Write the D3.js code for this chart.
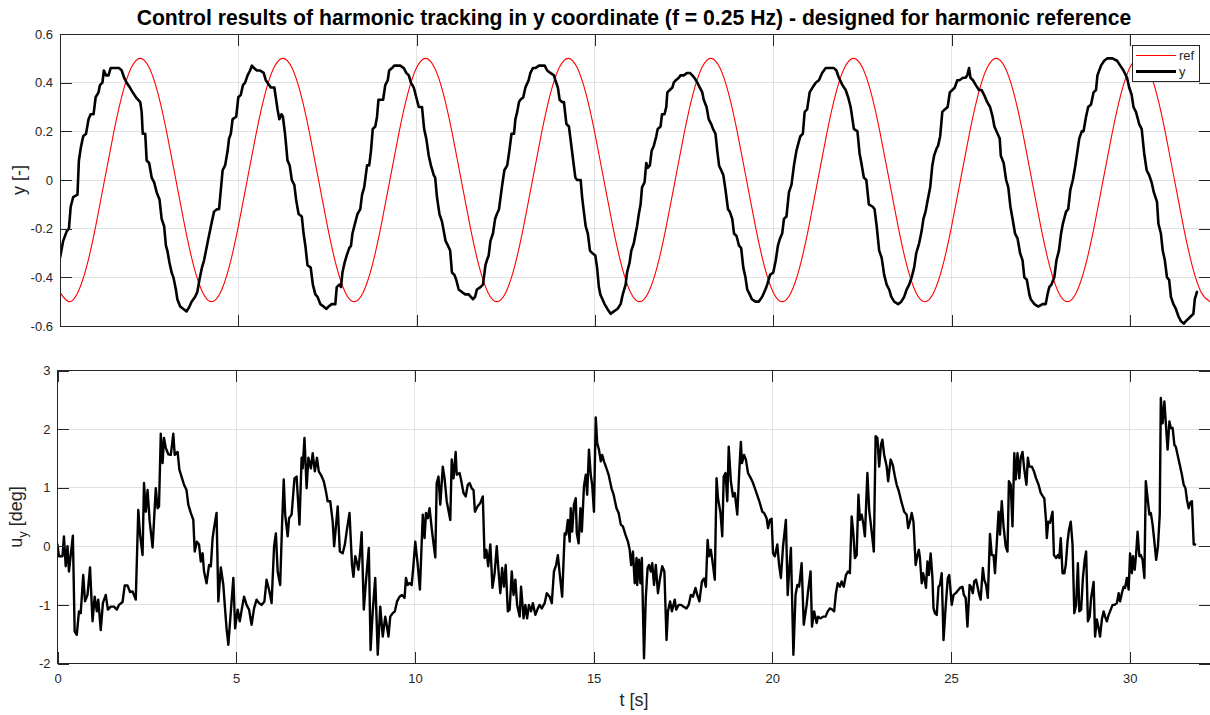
<!DOCTYPE html>
<html>
<head>
<meta charset="utf-8">
<script src="https://cdn.jsdelivr.net/npm/d3@7"></script>
<style>
  html, body { margin: 0; padding: 0; background: #ffffff; }
  svg { display: block; }
</style>
</head>
<body>
<svg id="chart" width="1210" height="715"></svg>
<script>
// ---------------------------------------------------------------------------
// Data
// ---------------------------------------------------------------------------
const titleText = "Control results of harmonic tracking in y coordinate (f = 0.25 Hz) - designed for harmonic reference";
const timeLabel = "t [s]";
const timeTicks = [0, 5, 10, 15, 20, 25, 30];
const yTicks = [-0.6, -0.4, -0.2, 0, 0.2, 0.4, 0.6];
const uTicks = [-2, -1, 0, 1, 2, 3];
const legendNames = ["ref", "y"];

// reference signal, sampled every 0.25 s from t = 0
const refStep = 0.25;
const refValues = [
  -0.462, -0.5, -0.462, -0.354, -0.191, 0, 0.191, 0.354, 0.462, 0.5, 0.462, 0.354, 0.191, 0, -0.191, -0.354,
  -0.462, -0.5, -0.462, -0.354, -0.191, 0, 0.191, 0.354, 0.462, 0.5, 0.462, 0.354, 0.191, 0, -0.191, -0.354,
  -0.462, -0.5, -0.462, -0.354, -0.191, 0, 0.191, 0.354, 0.462, 0.5, 0.462, 0.354, 0.191, 0, -0.191, -0.354,
  -0.462, -0.5, -0.462, -0.354, -0.191, 0, 0.191, 0.354, 0.462, 0.5, 0.462, 0.354, 0.191, 0, -0.191, -0.354,
  -0.462, -0.5, -0.462, -0.354, -0.191, 0, 0.191, 0.354, 0.462, 0.5, 0.462, 0.354, 0.191, 0, -0.191, -0.354,
  -0.462, -0.5, -0.462, -0.354, -0.191, 0, 0.191, 0.354, 0.462, 0.5, 0.462, 0.354, 0.191, 0, -0.191, -0.354,
  -0.462, -0.5, -0.462, -0.354, -0.191, 0, 0.191, 0.354, 0.462, 0.5, 0.462, 0.354, 0.191, 0, -0.191, -0.354,
  -0.462, -0.5, -0.462, -0.354, -0.191, 0, 0.191, 0.354, 0.462, 0.5, 0.462, 0.354, 0.191, 0, -0.191, -0.354,
  -0.462, -0.5
];

// measured y position [t, y]
const yMeasured = [
  [0,-0.32],[0.09,-0.25],[0.19,-0.21],[0.25,-0.2],[0.3,-0.11],[0.37,-0.07],[0.49,-0.06],[0.53,0.08],[0.58,0.13],[0.65,0.18],
  [0.73,0.19],[0.8,0.25],[0.86,0.27],[0.94,0.27],[1,0.34],[1.08,0.36],[1.12,0.39],[1.19,0.4],[1.23,0.45],[1.29,0.43],
  [1.36,0.43],[1.42,0.46],[1.54,0.46],[1.66,0.46],[1.73,0.45],[1.8,0.42],[1.87,0.4],[1.96,0.38],[2.04,0.36],[2.13,0.34],
  [2.25,0.32],[2.29,0.28],[2.32,0.19],[2.39,0.19],[2.43,0.08],[2.5,0.07],[2.57,0.01],[2.64,-0.01],[2.71,-0.05],[2.79,-0.08],
  [2.85,-0.16],[2.92,-0.19],[2.97,-0.27],[3.01,-0.29],[3.07,-0.34],[3.13,-0.38],[3.18,-0.4],[3.25,-0.45],[3.29,-0.49],[3.37,-0.52],
  [3.46,-0.53],[3.55,-0.54],[3.63,-0.52],[3.69,-0.5],[3.79,-0.48],[3.85,-0.46],[3.91,-0.41],[3.98,-0.36],[4.04,-0.33],[4.12,-0.27],
  [4.19,-0.22],[4.26,-0.17],[4.32,-0.13],[4.4,-0.12],[4.46,-0.12],[4.51,-0.04],[4.56,0.04],[4.63,0.06],[4.7,0.12],[4.74,0.17],
  [4.79,0.19],[4.84,0.25],[4.94,0.26],[5,0.34],[5.07,0.35],[5.13,0.39],[5.19,0.4],[5.26,0.43],[5.33,0.45],[5.38,0.47],
  [5.44,0.46],[5.52,0.45],[5.61,0.45],[5.71,0.44],[5.77,0.41],[5.82,0.4],[5.91,0.38],[6.01,0.38],[6.05,0.34],[6.1,0.29],
  [6.15,0.25],[6.21,0.27],[6.25,0.26],[6.31,0.19],[6.38,0.08],[6.44,0.06],[6.5,0],[6.57,-0.02],[6.62,-0.08],[6.69,-0.14],
  [6.78,-0.15],[6.83,-0.22],[6.88,-0.27],[6.94,-0.35],[7.03,-0.36],[7.09,-0.43],[7.16,-0.47],[7.22,-0.48],[7.3,-0.51],[7.39,-0.52],
  [7.47,-0.53],[7.53,-0.52],[7.62,-0.51],[7.72,-0.51],[7.76,-0.44],[7.83,-0.43],[7.88,-0.44],[7.92,-0.38],[7.98,-0.34],[8.04,-0.31],
  [8.11,-0.28],[8.16,-0.27],[8.2,-0.22],[8.27,-0.18],[8.34,-0.14],[8.42,-0.12],[8.47,-0.06],[8.53,-0.03],[8.61,0.06],[8.67,0.06],
  [8.72,0.12],[8.77,0.21],[8.84,0.22],[8.89,0.26],[8.93,0.33],[9.06,0.33],[9.12,0.39],[9.19,0.41],[9.23,0.45],[9.31,0.46],
  [9.37,0.47],[9.47,0.47],[9.54,0.47],[9.64,0.46],[9.71,0.44],[9.78,0.43],[9.84,0.4],[9.92,0.38],[9.99,0.34],
  [10.06,0.3],[10.15,0.3],[10.21,0.21],[10.27,0.17],[10.34,0.1],[10.4,0.06],[10.48,0.02],[10.52,0.01],[10.57,-0.07],[10.64,-0.14],
  [10.71,-0.17],[10.76,-0.21],[10.81,-0.25],[10.88,-0.27],[10.94,-0.29],[10.99,-0.38],[11.06,-0.39],[11.11,-0.41],[11.18,-0.45],[11.27,-0.46],
  [11.36,-0.47],[11.46,-0.47],[11.52,-0.48],[11.58,-0.49],[11.64,-0.48],[11.69,-0.45],[11.79,-0.44],[11.86,-0.43],[11.93,-0.35],[11.97,-0.33],
  [12.02,-0.31],[12.07,-0.25],[12.14,-0.22],[12.2,-0.16],[12.25,-0.14],[12.31,-0.12],[12.39,-0.03],[12.46,0.04],[12.54,0.06],[12.6,0.12],
  [12.66,0.19],[12.73,0.19],[12.77,0.25],[12.82,0.28],[12.87,0.32],[12.91,0.33],[12.99,0.34],[13.05,0.38],[13.14,0.41],[13.19,0.44],
  [13.26,0.46],[13.33,0.46],[13.43,0.47],[13.52,0.47],[13.59,0.47],[13.66,0.45],[13.75,0.44],[13.85,0.43],[13.89,0.41],[13.96,0.38],
  [14.01,0.33],[14.08,0.32],[14.13,0.32],[14.2,0.23],[14.27,0.22],[14.33,0.15],[14.39,0.08],[14.45,0.01],[14.5,0],[14.6,0],
  [14.64,-0.07],[14.68,-0.12],[14.74,-0.19],[14.8,-0.22],[14.86,-0.29],[14.92,-0.3],[15.01,-0.31],[15.06,-0.36],[15.11,-0.44],[15.15,-0.47],
  [15.21,-0.49],[15.27,-0.51],[15.35,-0.53],[15.44,-0.55],[15.53,-0.54],[15.63,-0.53],[15.72,-0.51],[15.78,-0.47],[15.86,-0.43],[15.9,-0.38],
  [15.97,-0.34],[16.02,-0.29],[16.09,-0.26],[16.14,-0.22],[16.18,-0.19],[16.23,-0.14],[16.28,-0.1],[16.32,-0.03],[16.39,-0.01],[16.44,0.07],
  [16.48,0.05],[16.54,0.06],[16.59,0.12],[16.65,0.14],[16.72,0.18],[16.76,0.21],[16.84,0.22],[16.88,0.27],[16.95,0.27],[17,0.3],
  [17.03,0.36],[17.1,0.37],[17.17,0.38],[17.21,0.4],[17.27,0.41],[17.35,0.42],[17.4,0.43],[17.49,0.43],[17.58,0.44],[17.66,0.44],
  [17.73,0.43],[17.79,0.42],[17.87,0.4],[17.94,0.38],[18.01,0.36],[18.05,0.33],[18.13,0.3],[18.19,0.25],[18.26,0.23],[18.31,0.21],
  [18.38,0.19],[18.43,0.12],[18.48,0.06],[18.54,0.04],[18.6,0.02],[18.66,-0.04],[18.73,-0.12],[18.78,-0.13],[18.85,-0.16],[18.9,-0.22],
  [18.97,-0.23],[19.04,-0.27],[19.1,-0.28],[19.16,-0.36],[19.22,-0.4],[19.27,-0.45],[19.34,-0.47],[19.4,-0.49],[19.5,-0.5],[19.59,-0.5],
  [19.69,-0.48],[19.78,-0.45],[19.83,-0.43],[19.91,-0.39],[20,-0.38],[20.07,-0.33],[20.13,-0.27],[20.19,-0.24],[20.25,-0.22],[20.3,-0.16],
  [20.37,-0.15],[20.44,-0.05],[20.51,-0.02],[20.58,0.06],[20.65,0.12],[20.72,0.16],[20.76,0.18],[20.83,0.19],[20.88,0.28],[20.95,0.29],
  [21.02,0.36],[21.1,0.38],[21.19,0.4],
  [21.28,0.41],[21.37,0.44],[21.47,0.46],[21.59,0.46],[21.7,0.46],[21.77,0.45],[21.84,0.42],[21.94,0.39],[22.03,0.37],[22.1,0.34],
  [22.17,0.3],[22.22,0.25],[22.26,0.21],[22.36,0.2],[22.42,0.11],[22.47,0.07],[22.54,0.01],[22.61,0],[22.68,-0.1],[22.79,-0.11],
  [22.84,-0.12],[22.9,-0.19],[22.97,-0.29],[23.04,-0.32],[23.11,-0.39],[23.18,-0.43],[23.25,-0.45],[23.31,-0.48],[23.39,-0.5],[23.5,-0.51],
  [23.59,-0.5],[23.67,-0.48],[23.74,-0.45],[23.81,-0.43],[23.88,-0.4],[23.95,-0.36],[24.01,-0.3],[24.09,-0.26],[24.16,-0.21],[24.21,-0.16],
  [24.27,-0.13],[24.32,-0.09],[24.4,-0.03],[24.46,0.06],[24.51,0.1],[24.58,0.13],[24.62,0.14],[24.68,0.18],[24.74,0.28],[24.81,0.29],
  [24.89,0.3],[24.95,0.36],[25.02,0.37],[25.09,0.38],[25.16,0.41],[25.22,0.41],[25.32,0.42],[25.39,0.42],[25.44,0.43],[25.49,0.46],
  [25.53,0.42],[25.6,0.41],[25.68,0.39],[25.77,0.37],[25.84,0.37],[25.91,0.35],[26,0.32],[26.08,0.3],[26.15,0.26],[26.2,0.22],
  [26.29,0.19],[26.35,0.17],[26.38,0.1],[26.46,0.07],[26.53,0],[26.59,-0.03],[26.65,-0.11],[26.71,-0.16],[26.78,-0.22],[26.85,-0.24],
  [26.92,-0.3],[26.99,-0.33],[27.04,-0.4],[27.11,-0.41],[27.18,-0.47],[27.22,-0.49],[27.32,-0.51],[27.43,-0.52],[27.55,-0.51],[27.64,-0.51],
  [27.69,-0.47],[27.74,-0.44],[27.8,-0.43],[27.88,-0.4],[27.94,-0.33],[28.01,-0.29],[28.07,-0.22],[28.12,-0.18],[28.21,-0.13],[28.27,-0.12],
  [28.33,-0.04],[28.4,0],[28.46,0.05],[28.52,0.11],[28.58,0.17],[28.65,0.2],[28.7,0.2],[28.77,0.26],[28.83,0.3],[28.91,0.31],
  [28.98,0.36],[29.05,0.37],[29.09,0.43],[29.19,0.47],[29.28,0.49],[29.37,0.5],[29.51,0.5],[29.64,0.49],[29.73,0.47],[29.82,0.45],
  [29.92,0.42],[29.98,0.38],[30.05,0.35],[30.1,0.3],[30.17,0.28],[30.26,0.23],[30.33,0.21],[30.4,0.11],[30.47,0.04],[30.54,0.02],
  [30.61,-0.01],[30.67,-0.05],[30.76,-0.09],[30.8,-0.18],[30.87,-0.22],[30.92,-0.29],[30.98,-0.33],[31.04,-0.4],[31.1,-0.41],[31.15,-0.48],
  [31.22,-0.51],[31.29,-0.53],[31.36,-0.56],[31.43,-0.58],[31.51,-0.59],[31.57,-0.58],[31.64,-0.57],[31.71,-0.56],[31.78,-0.55],[31.82,-0.49],
  [31.88,-0.46]
];

// control input u_y in degrees [t, u]
const uInput = [
  [0,0.03],[0.04,-0.17],[0.14,-0.17],[0.18,0.17],[0.23,-0.34],[0.28,0],[0.32,-0.43],[0.37,-0.15],[0.43,0.18],[0.48,-1.45],
  [0.54,-1.51],[0.6,-1.11],[0.65,-1.14],[0.72,-0.49],[0.77,-0.94],[0.84,-0.83],[0.91,-0.36],[0.98,-1.28],[1.04,-0.86],[1.1,-1.11],
  [1.14,-0.91],[1.21,-1.43],[1.27,-0.97],[1.35,-0.83],[1.41,-1.08],[1.49,-1.03],[1.58,-1.03],[1.66,-1.08],[1.72,-1],[1.82,-0.95],
  [1.88,-0.67],[1.96,-0.67],[2.03,-0.78],[2.1,-0.77],[2.14,-0.83],[2.19,-0.91],[2.26,0.62],[2.31,0.2],[2.38,-0.15],[2.42,1.08],
  [2.47,0.59],[2.52,0.96],[2.58,0.42],[2.66,-0.02],[2.75,0.99],[2.8,0.65],[2.84,0.68],[2.89,1.92],[2.94,1.42],[2.98,1.85],
  [3.03,1.68],[3.1,1.57],[3.17,1.56],[3.24,1.92],[3.28,1.56],[3.36,1.61],[3.41,1.31],[3.47,1.19],[3.54,1.05],[3.61,0.96],
  [3.66,0.71],[3.73,0.57],[3.8,0.45],[3.84,-0.09],[3.9,0.08],[3.96,0.03],[4.01,-0.26],[4.06,-0.12],[4.1,-0.43],[4.17,-0.63],
  [4.24,-0.32],[4.29,-0.34],[4.34,0.14],[4.38,0.31],[4.45,0.57],[4.5,-0.94],[4.57,-0.36],[4.64,-0.66],[4.68,-1],[4.73,-1.4],
  [4.78,-1.68],[4.85,-1.11],[4.92,-0.54],[4.97,-1.4],[5.04,-1.08],[5.1,-1.28],[5.16,-1.06],[5.22,-0.86],[5.29,-1],[5.36,-1.08],
  [5.43,-1.34],[5.5,-1.06],[5.57,-0.91],[5.64,-0.97],[5.71,-1],[5.79,-0.94],[5.85,-0.57],[5.93,-0.77],[5.99,-0.97],[6.06,0],
  [6.11,0.22],[6.16,-0.43],[6.23,-0.66],[6.28,0.31],[6.33,1.14],[6.37,0.54],[6.44,0.17],[6.48,0.48],[6.55,0.54],[6.63,1.16],
  [6.69,1.19],[6.77,0.37],[6.83,1.51],[6.86,1.33],[6.91,1.85],[6.97,0.99],[7.02,1.51],[7.09,1.33],[7.14,1.59],[7.2,1.28],
  [7.26,1.51],[7.31,1.28],[7.37,1.22],[7.45,1.11],[7.51,0.94],[7.56,0.77],[7.63,0.77],[7.7,0.42],[7.74,0],[7.84,0.68],
  [7.9,-0.09],[7.98,-0.12],[8.04,0.03],[8.09,0.25],
  [8.17,0.57],[8.24,-0.32],[8.28,-0.52],[8.33,-0.17],[8.37,-0.26],[8.42,-0.4],[8.47,-0.09],[8.51,0.24],[8.57,-1.08],[8.63,-0.6],
  [8.71,-0.03],[8.76,-1.77],[8.82,-1.11],[8.89,-0.54],[8.96,-1.85],[9.03,-1.03],[9.1,-1.54],[9.17,-1.2],[9.21,-1.34],[9.26,-1.54],
  [9.31,-1.2],[9.38,-1.14],[9.44,-1.11],[9.5,-0.94],[9.57,-0.86],[9.64,-0.83],[9.71,-0.88],[9.75,-0.54],[9.8,-0.66],[9.85,-0.63],
  [9.91,-0.66],[9.96,-0.32],[10.01,0.08],[10.08,-0.32],[10.14,-0.74],[10.22,0.54],[10.27,0.14],[10.31,0.57],[10.36,0.48],[10.41,0.65],
  [10.48,0.25],[10.57,-0.19],[10.61,1.08],[10.66,1.19],[10.71,0.71],[10.78,1.36],[10.83,1.16],[10.89,0.77],[10.99,0.45],[11.03,1.48],
  [11.08,1.16],[11.14,1.61],[11.17,1.22],[11.25,1.25],[11.29,1.14],[11.36,0.91],[11.42,0.85],[11.48,1.05],[11.53,1.08],[11.59,0.99],
  [11.64,0.96],[11.68,0.59],[11.75,0.68],[11.83,0.74],[11.9,0.85],[11.95,-0.2],[12,-0.06],[12.05,-0.34],[12.11,0.03],[12.17,-0.71],
  [12.23,-0.46],[12.29,0],[12.34,-0.43],[12.39,-0.8],[12.44,-0.37],[12.49,-0.69],[12.54,-0.32],[12.6,-1.11],[12.65,-1.08],[12.71,-0.43],
  [12.76,-0.83],[12.81,-0.57],[12.86,-1],[12.93,-1.2],[12.97,-0.69],[13.04,-1.23],[13.09,-1],[13.14,-1.23],[13.19,-1],[13.25,-1.11],
  [13.3,-0.97],[13.37,-1.17],[13.44,-1.06],[13.49,-1],[13.55,-1.06],[13.63,-0.97],[13.69,-0.8],[13.77,-0.86],[13.83,-0.97],[13.89,-0.43],
  [13.95,-0.32],[14,-0.15],[14.05,-0.46],[14.12,-0.86],[14.19,0.22],[14.23,0.2],[14.28,0.45],[14.33,0.08],[14.36,0.65],[14.4,0.25],
  [14.45,0.71],[14.5,0.82],[14.53,0.22],[14.58,0.05],[14.63,0.65],[14.67,0.25],[14.73,1.02],[14.78,1.22],[14.82,0.88],[14.87,1.65],
  [14.92,1.22],[14.96,1.05],[15.01,0.59],[15.06,2.2],[15.1,1.76],[15.15,1.65],[15.2,1.45],[15.24,1.56],[15.29,1.45],[15.36,1.33],
  [15.42,1.22],[15.5,0.99],[15.56,0.88],[15.64,0.65],[15.7,0.57],[15.76,0.37],[15.82,0.34],[15.89,0.2],[15.96,0.08],[16.01,-0.06],
  [16.05,-0.32],[16.1,-0.09],
  [16.15,-0.63],[16.2,-0.2],[16.22,-0.66],[16.27,-0.23],[16.31,-0.63],[16.35,-0.2],[16.41,-1.91],[16.46,-0.88],[16.51,-0.37],[16.55,-0.32],
  [16.6,-0.43],[16.64,-0.29],[16.69,-0.66],[16.74,-0.32],[16.8,-0.8],[16.86,-0.54],[16.92,-0.34],[16.98,-0.43],[17.04,-1.6],[17.08,-1.11],
  [17.14,-0.94],[17.19,-1.11],[17.27,-0.91],[17.31,-1.08],[17.38,-1],[17.45,-1],[17.52,-1.03],[17.6,-1.06],[17.66,-1],[17.72,-0.83],
  [17.78,-0.86],[17.85,-0.71],[17.9,-0.83],[17.96,-0.94],[18.03,-0.6],[18.09,-0.55],[18.14,-0.69],[18.19,0.11],[18.23,-0.17],[18.28,-0.06],
  [18.34,-0.32],[18.39,-0.57],[18.44,1.16],[18.48,0.82],[18.55,0.57],[18.6,0.17],[18.64,1.19],[18.69,1.25],[18.74,0.77],[18.78,1.7],
  [18.84,1.11],[18.9,0.85],[18.95,0.91],[19.02,0.54],[19.07,1.22],[19.12,1.78],[19.15,1.42],[19.21,1.56],[19.26,1.48],[19.32,1.25],
  [19.4,1.16],[19.46,1.08],[19.53,0.96],[19.59,0.85],[19.65,0.74],[19.72,0.59],[19.77,0.57],[19.84,0.48],[19.88,0.31],[19.93,0.45],
  [19.98,0.47],[20.02,-0.12],[20.07,-0.17],[20.14,0.03],[20.19,-0.32],[20.24,-0.54],[20.3,0],[20.38,0.45],[20.43,-0.83],[20.47,-0.43],
  [20.52,-0.03],[20.59,-1.85],[20.65,-0.83],[20.7,-0.66],[20.75,-0.69],[20.82,-0.29],[20.88,-1.34],[20.96,-1],[21,-0.77],[21.07,-0.43],
  [21.11,-1.37],[21.17,-1.11],[21.24,-1.31],[21.28,-1.2],[21.35,-1.23],[21.42,-1.2],[21.49,-1.2],[21.55,-1.11],[21.61,-1.06],[21.68,-1.08],
  [21.73,-1.11],[21.78,-0.8],[21.83,-0.63],[21.89,-0.69],[21.94,-0.6],[22,-0.69],[22.06,-0.49],[22.12,-0.43],[22.17,-0.46],[22.22,0.51],
  [22.27,0.2],[22.31,-0.2],[22.36,-0.15],[22.41,0.88],[22.45,0.45],[22.5,0.54],[22.55,0.37],[22.59,0.17],[22.66,1.25],[22.71,0.62],
  [22.78,0.25],[22.84,-0.09],[22.89,1.88],[22.94,1.85],[22.99,1.36],[23.04,1.73],[23.08,1.82],[23.13,1.56],[23.2,1.36],[23.24,1.11],
  [23.31,1.48],[23.37,1.39],[23.43,1.19],[23.48,1.05],[23.54,0.94],[23.62,0.74],[23.69,0.59],[23.76,0.54],[23.8,0.31],[23.85,0.42],
  [23.9,0.57],[23.95,0.42],
  [24.01,-0.32],[24.06,-0.15],[24.1,-0.06],[24.13,-0.2],[24.18,-0.63],[24.22,-0.46],[24.27,-0.6],[24.3,-0.71],[24.34,-0.26],[24.38,-0.49],
  [24.43,-0.12],[24.48,-0.54],[24.51,-1.06],[24.55,-1.14],[24.6,-1.17],[24.65,-0.69],[24.69,-0.66],[24.74,-0.46],[24.79,-1.6],[24.85,-1.03],
  [24.91,-0.54],[24.95,-0.49],[25.02,-1],[25.07,-0.83],[25.13,-0.8],[25.21,-0.74],[25.25,-0.71],[25.32,-0.69],[25.36,-0.83],[25.41,-0.88],
  [25.46,-1.37],[25.52,-0.66],[25.56,-0.69],[25.61,-0.8],[25.65,-0.6],[25.7,-0.57],[25.75,-0.71],[25.79,-0.83],[25.83,-0.91],[25.89,-0.37],
  [25.93,-0.57],[25.98,-0.66],[26.03,-0.88],[26.09,0.21],[26.14,-0.15],[26.19,-0.15],[26.23,-0.46],[26.28,0.05],[26.33,0.59],[26.37,0.2],
  [26.42,0.77],[26.47,0.34],[26.53,0],[26.58,-0.09],[26.62,1.11],[26.67,1.05],[26.72,0.34],[26.77,1.59],[26.81,1.14],[26.86,1.59],
  [26.91,1.16],[26.95,1.51],[27,1.61],[27.05,1.31],[27.11,1.05],[27.15,1.51],[27.19,1.36],[27.26,1.36],[27.32,1.28],[27.38,1.16],
  [27.45,1.05],[27.51,0.91],[27.57,0.85],[27.61,0.82],[27.66,0.42],[27.68,0.14],[27.72,0.42],[27.77,0.4],[27.84,0.59],[27.88,-0.15],
  [27.94,-0.2],[27.99,-0.15],[28.03,-0.2],[28.07,0.14],[28.12,-0.46],[28.17,-0.46],[28.21,-0.32],[28.26,0.08],[28.3,0.28],[28.35,0.42],
  [28.4,0.03],[28.45,-1.14],[28.5,-1],[28.55,-0.29],[28.59,-1.11],[28.64,-1.08],[28.69,-0.54],[28.74,-0.23],[28.78,-0.09],[28.83,-1.28],
  [28.88,-1.2],[28.92,-0.88],[28.99,-0.61],[29.03,-1.54],[29.08,-1.25],[29.13,-1.4],[29.17,-1.54],[29.22,-1.25],[29.27,-1.11],[29.31,-1.2],
  [29.36,-1.28],[29.41,-1.17],[29.45,-1.11],[29.52,-1],[29.57,-1],[29.64,-0.97],[29.69,-0.8],[29.73,-0.94],[29.78,-0.8],[29.83,-0.69],
  [29.87,-0.71],[29.92,-0.54],[29.97,-0.74],[30.01,-0.12],[30.06,-0.46],[30.09,-0.17],[30.14,-0.4],[30.18,-0.12],[30.22,0.25],[30.27,-0.17],
  [30.31,-0.15],[30.36,-0.23],[30.41,-0.54],[30.45,1.11],[30.5,0.82],[30.55,0.54],[30.59,0.57],[30.64,0.37],[30.69,0.08],[30.74,-0.23],
  [30.79,0],[30.84,0.54],[30.87,2.53],[30.92,2.1],[30.97,2.47],[31.01,2.1],[31.06,1.65],[31.11,2.13],[31.15,2.02],[31.2,2.02],
  [31.25,1.73],[31.29,1.7],[31.34,1.56],[31.4,1.39],[31.46,1.22],[31.51,1.05],[31.56,0.99],[31.6,0.8],[31.65,0.65],[31.69,0.74],
  [31.74,0.77],[31.79,0.03],[31.83,0.03]
];

// ---------------------------------------------------------------------------
// Layout & style
// ---------------------------------------------------------------------------
const FONT = '"Liberation Sans", Arial, Helvetica, sans-serif';
const AXIS_COLOR = "#262626";
const GRID_COLOR = "#e2e2e2";
const TICK_LEN = 11.5;
const T_MAX = 32.26;

const topBox = { left: 60, right: 1210.5, top: 34, bottom: 326 };
const botBox = { left: 57.5, right: 1210.5, top: 370.5, bottom: 663.5 };

const svg = d3.select("#chart");

function makeScales(box, yDomain) {
  return {
    x: d3.scaleLinear().domain([0, T_MAX]).range([box.left, box.right]),
    y: d3.scaleLinear().domain(yDomain).range([box.bottom, box.top])
  };
}

function drawGrid(g, box, sc, yTickVals) {
  const grid = g.append("g").attr("shape-rendering", "crispEdges")
    .attr("stroke", GRID_COLOR).attr("stroke-width", 1);
  grid.selectAll("line.v").data(timeTicks).join("line").attr("class", "v")
    .attr("x1", d => sc.x(d)).attr("x2", d => sc.x(d))
    .attr("y1", box.top).attr("y2", box.bottom);
  grid.selectAll("line.h").data(yTickVals).join("line").attr("class", "h")
    .attr("x1", box.left).attr("x2", box.right)
    .attr("y1", d => sc.y(d)).attr("y2", d => sc.y(d));
}

function drawAxes(g, box, sc, yTickVals, showTimeLabels) {
  const fmt = d => String(d);
  const styleAxis = sel => {
    sel.select(".domain").remove();
    sel.selectAll(".tick line").attr("stroke", AXIS_COLOR).attr("shape-rendering", "crispEdges");
    sel.selectAll(".tick text").attr("fill", AXIS_COLOR)
      .style("font-family", FONT).style("font-size", "13px");
  };
  g.append("g").attr("transform", `translate(${box.left},0)`)
    .call(d3.axisLeft(sc.y).tickValues(yTickVals).tickSize(-TICK_LEN).tickPadding(7).tickFormat(fmt))
    .call(styleAxis);
  g.append("g").attr("transform", `translate(${box.right},0)`)
    .call(d3.axisRight(sc.y).tickValues(yTickVals).tickSize(-TICK_LEN).tickFormat(""))
    .call(styleAxis);
  g.append("g").attr("transform", `translate(0,${box.bottom})`)
    .call(d3.axisBottom(sc.x).tickValues(timeTicks).tickSize(-TICK_LEN).tickPadding(10)
      .tickFormat(showTimeLabels ? fmt : ""))
    .call(styleAxis);
  g.append("g").attr("transform", `translate(0,${box.top})`)
    .call(d3.axisTop(sc.x).tickValues(timeTicks).tickSize(-TICK_LEN).tickFormat(""))
    .call(styleAxis);
  g.append("rect")
    .attr("x", box.left).attr("y", box.top)
    .attr("width", box.right - box.left).attr("height", box.bottom - box.top)
    .attr("fill", "none").attr("stroke", AXIS_COLOR).attr("stroke-width", 1)
    .attr("shape-rendering", "crispEdges");
}

function clipFor(id, box) {
  svg.append("defs").append("clipPath").attr("id", id).append("rect")
    .attr("x", box.left).attr("y", box.top - 2)
    .attr("width", box.right - box.left).attr("height", box.bottom - box.top + 4);
  return `url(#${id})`;
}

// ---------------------------------------------------------------------------
// Top panel: reference and measured y
// ---------------------------------------------------------------------------
const scTop = makeScales(topBox, [-0.6, 0.6]);
const gTop = svg.append("g");
drawGrid(gTop, topBox, scTop, yTicks);

const refSeries = refValues.map((v, i) => [i * refStep, v]);
const clipTop = clipFor("clip-top", topBox);

gTop.append("path")
  .datum(refSeries)
  .attr("clip-path", clipTop)
  .attr("fill", "none").attr("stroke", "#ff0000").attr("stroke-width", 1.1)
  .attr("d", d3.line().x(d => scTop.x(d[0])).y(d => scTop.y(d[1])).curve(d3.curveNatural));

gTop.append("path")
  .datum(yMeasured)
  .attr("clip-path", clipTop)
  .attr("fill", "none").attr("stroke", "#000000").attr("stroke-width", 2.6)
  .attr("stroke-linejoin", "round").attr("stroke-linecap", "round")
  .attr("d", d3.line().x(d => scTop.x(d[0])).y(d => scTop.y(d[1])));

drawAxes(gTop, topBox, scTop, yTicks, false);

// y-axis label
svg.append("text")
  .attr("transform", `translate(24.5,${(topBox.top + topBox.bottom) / 2}) rotate(-90)`)
  .attr("text-anchor", "middle")
  .attr("fill", AXIS_COLOR)
  .style("font-family", FONT).style("font-size", "18px")
  .text("y [-]");

// legend
const legend = svg.append("g");
legend.append("rect")
  .attr("x", 1132).attr("y", 45.5).attr("width", 67).attr("height", 36)
  .attr("fill", "#ffffff").attr("stroke", AXIS_COLOR).attr("stroke-width", 1)
  .attr("shape-rendering", "crispEdges");
const legendStyles = [
  { color: "#ff0000", width: 1.1, y: 55.5 },
  { color: "#000000", width: 3, y: 71.5 }
];
legendNames.forEach((name, i) => {
  const s = legendStyles[i];
  legend.append("line")
    .attr("x1", 1136).attr("x2", 1176).attr("y1", s.y).attr("y2", s.y)
    .attr("stroke", s.color).attr("stroke-width", s.width);
  legend.append("text")
    .attr("x", 1179).attr("y", s.y + 4.5)
    .attr("fill", AXIS_COLOR)
    .style("font-family", FONT).style("font-size", "13px")
    .text(name);
});

// title, fitted to its span above the top panel
const title = svg.append("text")
  .attr("x", 634).attr("y", 25)
  .attr("text-anchor", "middle")
  .attr("fill", "#000000")
  .style("font-family", FONT).style("font-weight", "bold").style("font-size", "15px")
  .text(titleText);
const measured = title.node().getComputedTextLength();
if (measured > 0) title.style("font-size", (15 * 995 / measured).toFixed(2) + "px");

// ---------------------------------------------------------------------------
// Bottom panel: control input u_y
// ---------------------------------------------------------------------------
const scBot = makeScales(botBox, [-2, 3]);
const gBot = svg.append("g");
drawGrid(gBot, botBox, scBot, uTicks);
const clipBot = clipFor("clip-bot", botBox);

gBot.append("path")
  .datum(uInput)
  .attr("clip-path", clipBot)
  .attr("fill", "none").attr("stroke", "#000000").attr("stroke-width", 2.4)
  .attr("stroke-linejoin", "round").attr("stroke-linecap", "round")
  .attr("d", d3.line().x(d => scBot.x(d[0])).y(d => scBot.y(d[1])));

drawAxes(gBot, botBox, scBot, uTicks, true);

// u_y label with subscript
const uLabel = svg.append("text")
  .attr("transform", `translate(22,${(botBox.top + botBox.bottom) / 2}) rotate(-90)`)
  .attr("text-anchor", "middle")
  .attr("fill", AXIS_COLOR)
  .style("font-family", FONT).style("font-size", "18px");
uLabel.append("tspan").text("u");
uLabel.append("tspan").attr("dy", 5).style("font-size", "13px").text("y");
uLabel.append("tspan").attr("dy", -5).text(" [deg]");

// time axis label
svg.append("text")
  .attr("x", (botBox.left + botBox.right) / 2).attr("y", 706)
  .attr("text-anchor", "middle")
  .attr("fill", AXIS_COLOR)
  .style("font-family", FONT).style("font-size", "18px")
  .text(timeLabel);
</script>
</body>
</html>
